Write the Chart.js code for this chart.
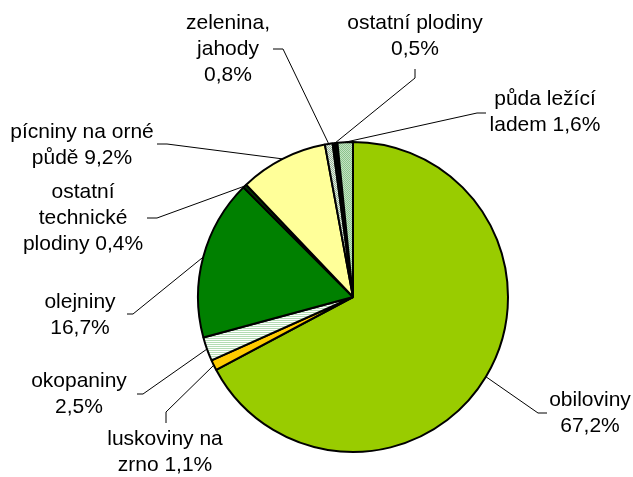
<!DOCTYPE html>
<html>
<head>
<meta charset="utf-8">
<script src="https://cdn.jsdelivr.net/npm/chart.js@4"></script>
<style>
  html, body { margin: 0; padding: 0; background: #fff; }
  #wrap { width: 633px; height: 477px; }
</style>
</head>
<body>
<div id="wrap"><canvas id="pie" width="633" height="477"></canvas></div>
<script>
// Kategorie a podíly (v %)
const categories = ['obiloviny', 'luskoviny na zrno', 'okopaniny', 'olejniny',
  'ostatní technické plodiny', 'pícniny na orné půdě', 'zelenina, jahody',
  'ostatní plodiny', 'půda ležící ladem'];
const shares = [67.2, 1.1, 2.5, 16.7, 0.4, 9.2, 0.8, 0.5, 1.6];

// Zalomení popisků, {v} = hodnota
const labelLines = [
  ['obiloviny', '{v}'],
  ['luskoviny na', 'zrno {v}'],
  ['okopaniny', '{v}'],
  ['olejniny', '{v}'],
  ['ostatní', 'technické', 'plodiny {v}'],
  ['pícniny na orné', 'půdě {v}'],
  ['zelenina,', 'jahody', '{v}'],
  ['ostatní plodiny', '{v}'],
  ['půda ležící', 'ladem {v}']
];

// Umístění popisků: střed textu, y prvního řádku, začátek a lom vodicí čáry
const labelPos = [
  { x: 590, y: 400, start: [547, 413], elbow: [538, 413] },
  { x: 165, y: 439, start: [166, 423], elbow: [166, 412] },
  { x: 79,  y: 381, start: [137, 394], elbow: [143, 394] },
  { x: 80,  y: 302, start: [127, 314], elbow: [133, 314] },
  { x: 83,  y: 192, start: [147, 218], elbow: [157, 218] },
  { x: 82,  y: 132, start: [157, 144], elbow: [167, 144] },
  { x: 228, y: 23,  start: [273, 49],  elbow: [283, 49] },
  { x: 415, y: 23,  start: [415, 69],  elbow: [415, 78] },
  { x: 545, y: 99,  start: [486, 113], elbow: [477, 113] }
];

// Šrafované výplně
function makePattern(size, draw) {
  const c = document.createElement('canvas');
  c.width = size; c.height = size;
  const g = c.getContext('2d');
  draw(g);
  return g.createPattern(c, 'repeat');
}

const stripes = makePattern(2, g => {
  g.fillStyle = '#ffffff'; g.fillRect(0, 0, 2, 2);
  g.fillStyle = '#b4dcb4'; g.fillRect(0, 0, 2, 1);
});
const checkGrey = makePattern(2, g => {
  g.fillStyle = '#e6eee6'; g.fillRect(0, 0, 2, 2);
  g.fillStyle = '#98b498'; g.fillRect(0, 0, 1, 1); g.fillRect(1, 1, 1, 1);
});
const checkGreen = makePattern(2, g => {
  g.fillStyle = '#c4e2c4'; g.fillRect(0, 0, 2, 2);
  g.fillStyle = '#8cc48c'; g.fillRect(0, 0, 1, 1); g.fillRect(1, 1, 1, 1);
});

const COLORS = ['#99cc00', '#ffcc00', stripes, '#008000', '#003300',
  '#ffff99', checkGrey, '#000000', checkGreen];

function fmt(v) {
  return v.toFixed(1).replace('.', ',') + '%';
}

// Popisky s vodicími čarami
const leaderLabels = {
  id: 'leaderLabels',
  afterDatasetsDraw(chart) {
    const ctx = chart.ctx;
    const meta = chart.getDatasetMeta(0);
    ctx.save();
    ctx.font = '21px "Liberation Sans", Arial, sans-serif';
    ctx.fillStyle = '#000';
    ctx.textAlign = 'center';
    ctx.textBaseline = 'middle';
    ctx.strokeStyle = '#000';
    ctx.lineWidth = 1;
    meta.data.forEach((arc, i) => {
      const p = labelPos[i];
      const mid = (arc.startAngle + arc.endAngle) / 2;
      const ex = arc.x + Math.cos(mid) * arc.outerRadius;
      const ey = arc.y + Math.sin(mid) * arc.outerRadius;
      ctx.beginPath();
      ctx.moveTo(p.start[0], p.start[1]);
      ctx.lineTo(p.elbow[0], p.elbow[1]);
      ctx.lineTo(ex, ey);
      ctx.stroke();
      labelLines[i].forEach((t, k) => {
        ctx.fillText(t.replace('{v}', fmt(shares[i])), p.x, p.y + k * 26);
      });
    });
    ctx.restore();
  }
};

new Chart(document.getElementById('pie'), {
  type: 'pie',
  data: {
    labels: categories,
    datasets: [{
      data: shares,
      backgroundColor: COLORS,
      borderColor: '#000',
      borderWidth: 2,
      hoverOffset: 0
    }]
  },
  options: {
    responsive: false,
    animation: false,
    events: [],
    radius: 155,
    layout: { padding: { left: 198, right: 125, top: 142, bottom: 25 } },
    plugins: {
      legend: { display: false },
      tooltip: { enabled: false }
    }
  },
  plugins: [leaderLabels]
});
</script>
</body>
</html>
